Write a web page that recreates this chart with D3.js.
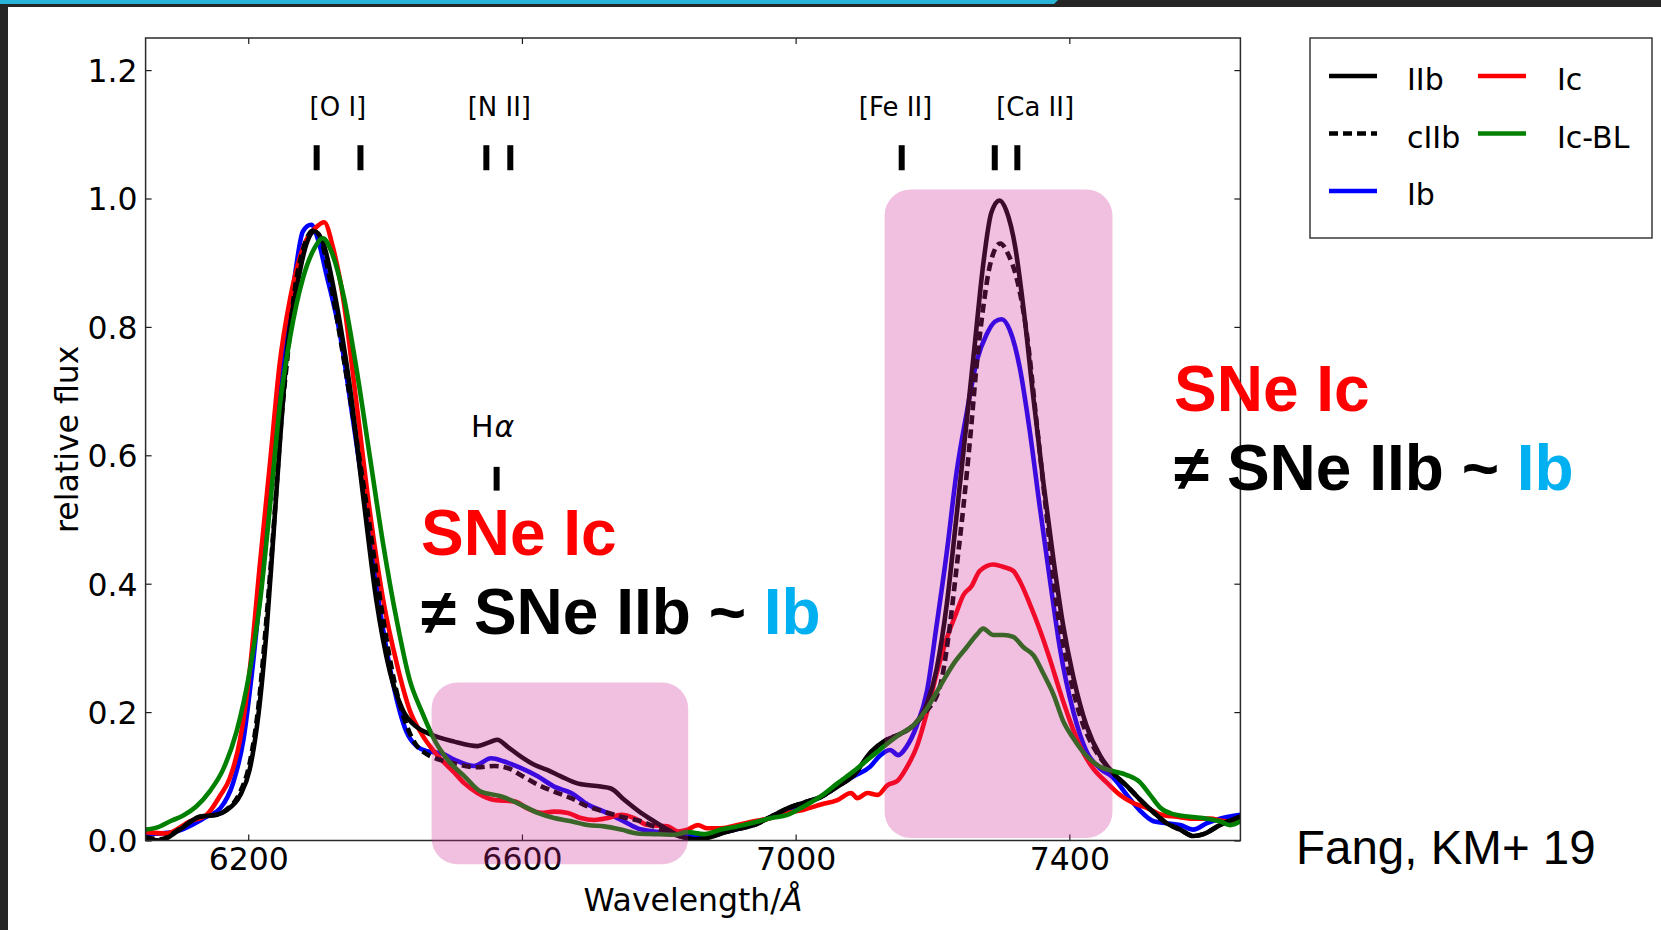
<!DOCTYPE html>
<html>
<head>
<meta charset="utf-8">
<script src="https://cdn.jsdelivr.net/npm/d3@7"></script>
<style>
  html, body { margin: 0; padding: 0; background: #ffffff; }
  svg { display: block; }
</style>
</head>
<body>
<svg id="chart" width="1661" height="930"></svg>
<script>
// ---- Mean nebular spectra, [wavelength (Å), relative flux] ----
const specIIb = [
  [6050,0.003],[6071,0.000],[6100,0.017],[6129,0.037],[6154,0.040],[6168,0.047],[6188,0.070],
  [6202,0.110],[6215,0.197],[6227,0.330],[6236,0.463],[6246,0.616],[6258,0.776],[6270,0.856],
  [6285,0.929],[6297,0.949],[6310,0.929],[6329,0.836],[6348,0.710],[6368,0.536],[6387,0.376],
  [6407,0.263],[6426,0.203],[6446,0.177],[6465,0.166],[6501,0.154],[6535,0.147],[6550,0.152],
  [6564,0.157],[6579,0.146],[6598,0.131],[6618,0.118],[6637,0.110],[6657,0.100],[6681,0.089],
  [6715,0.084],[6730,0.081],[6750,0.063],[6774,0.043],[6793,0.030],[6813,0.017],[6832,0.006],
  [6852,0.002],[6871,0.004],[6891,0.011],[6915,0.018],[6939,0.024],[6964,0.037],[6988,0.050],
  [7012,0.059],[7037,0.068],[7061,0.084],[7085,0.102],[7110,0.138],[7133,0.157],[7153,0.166],
  [7172,0.179],[7192,0.213],[7206,0.267],[7221,0.369],[7235,0.504],[7250,0.653],[7262,0.775],
  [7274,0.896],[7286,0.978],[7298,0.997],[7308,0.981],[7321,0.924],[7333,0.829],[7347,0.694],
  [7362,0.558],[7377,0.436],[7391,0.335],[7406,0.254],[7425,0.179],[7445,0.132],[7464,0.105],
  [7484,0.085],[7503,0.064],[7523,0.044],[7542,0.027],[7562,0.017],[7581,0.007],[7596,0.010],
  [7620,0.024],[7650,0.037]
];
const specCIIb = [
  [6050,0.005],[6071,0.002],[6100,0.018],[6129,0.037],[6154,0.040],[6168,0.048],[6188,0.075],
  [6202,0.120],[6215,0.210],[6227,0.350],[6238,0.500],[6248,0.650],[6258,0.760],[6267,0.850],
  [6280,0.920],[6295,0.950],[6305,0.940],[6320,0.870],[6338,0.760],[6356,0.640],[6376,0.500],
  [6395,0.360],[6414,0.245],[6433,0.175],[6452,0.141],[6501,0.120],[6535,0.114],[6560,0.116],
  [6579,0.113],[6598,0.102],[6623,0.087],[6647,0.076],[6672,0.066],[6696,0.053],[6720,0.045],
  [6745,0.037],[6774,0.030],[6803,0.017],[6832,0.006],[6852,0.002],[6871,0.004],[6891,0.011],
  [6915,0.018],[6939,0.024],[6964,0.037],[6988,0.050],[7012,0.059],[7037,0.068],[7061,0.084],
  [7085,0.102],[7110,0.136],[7133,0.157],[7153,0.166],[7172,0.179],[7190,0.200],[7211,0.240],
  [7223,0.315],[7235,0.423],[7245,0.518],[7255,0.626],[7264,0.734],[7274,0.829],[7284,0.896],
  [7299,0.930],[7312,0.910],[7323,0.876],[7338,0.788],[7352,0.653],[7367,0.504],[7381,0.369],
  [7396,0.280],[7416,0.193],[7435,0.146],[7450,0.122],[7464,0.105],[7484,0.085],[7503,0.064],
  [7523,0.044],[7542,0.027],[7562,0.017],[7581,0.007],[7596,0.010],[7620,0.024],[7650,0.037]
];
const specIb = [
  [6050,0.010],[6090,0.013],[6139,0.037],[6159,0.050],[6178,0.090],[6193,0.157],[6207,0.276],
  [6222,0.430],[6236,0.596],[6251,0.743],[6266,0.863],[6280,0.949],[6292,0.959],[6302,0.936],
  [6314,0.883],[6334,0.789],[6353,0.656],[6373,0.510],[6392,0.363],[6412,0.243],[6431,0.170],
  [6446,0.147],[6462,0.139],[6482,0.136],[6501,0.126],[6530,0.116],[6555,0.128],[6574,0.123],
  [6598,0.113],[6623,0.100],[6647,0.084],[6672,0.074],[6696,0.056],[6720,0.045],[6745,0.032],
  [6769,0.019],[6793,0.014],[6818,0.011],[6850,0.008],[6880,0.010],[6915,0.018],[6939,0.025],
  [6964,0.037],[6988,0.048],[7012,0.058],[7037,0.068],[7061,0.085],[7085,0.100],[7109,0.115],
  [7123,0.132],[7138,0.141],[7150,0.133],[7162,0.146],[7177,0.179],[7192,0.233],[7206,0.335],
  [7221,0.450],[7235,0.572],[7250,0.666],[7265,0.748],[7279,0.788],[7291,0.808],[7301,0.812],
  [7313,0.795],[7328,0.734],[7342,0.639],[7357,0.518],[7372,0.403],[7386,0.301],[7406,0.200],
  [7425,0.139],[7445,0.112],[7464,0.098],[7484,0.071],[7503,0.047],[7523,0.030],[7542,0.027],
  [7562,0.024],[7581,0.017],[7601,0.027],[7620,0.034],[7650,0.040]
];
const specIc = [
  [6050,0.013],[6080,0.011],[6115,0.030],[6139,0.040],[6159,0.070],[6173,0.097],[6188,0.157],
  [6202,0.263],[6217,0.430],[6232,0.590],[6246,0.743],[6261,0.843],[6280,0.923],[6300,0.956],
  [6311,0.963],[6324,0.923],[6339,0.843],[6358,0.683],[6378,0.510],[6397,0.376],[6417,0.276],
  [6436,0.203],[6454,0.165],[6477,0.132],[6501,0.106],[6516,0.089],[6535,0.074],[6560,0.063],
  [6589,0.061],[6608,0.050],[6628,0.043],[6647,0.045],[6667,0.043],[6686,0.035],[6706,0.032],
  [6725,0.035],[6745,0.040],[6764,0.035],[6784,0.024],[6813,0.022],[6828,0.014],[6842,0.017],
  [6857,0.024],[6871,0.019],[6891,0.019],[6915,0.024],[6939,0.030],[6964,0.035],[6988,0.043],
  [7012,0.048],[7037,0.056],[7061,0.063],[7081,0.074],[7090,0.066],[7105,0.074],[7120,0.071],
  [7134,0.086],[7149,0.093],[7163,0.115],[7177,0.146],[7192,0.200],[7206,0.260],[7221,0.315],
  [7235,0.355],[7245,0.382],[7257,0.396],[7269,0.420],[7289,0.430],[7304,0.426],[7318,0.420],
  [7328,0.403],[7342,0.369],[7357,0.328],[7372,0.281],[7386,0.233],[7401,0.186],[7416,0.146],
  [7435,0.112],[7454,0.091],[7474,0.071],[7494,0.058],[7513,0.051],[7532,0.041],[7557,0.037],
  [7581,0.034],[7605,0.034],[7630,0.030],[7650,0.030]
];
const specIcBL = [
  [6050,0.017],[6066,0.020],[6086,0.030],[6105,0.039],[6124,0.053],[6144,0.077],[6163,0.110],
  [6183,0.170],[6202,0.263],[6217,0.370],[6232,0.523],[6246,0.676],[6261,0.783],[6280,0.876],
  [6297,0.923],[6309,0.938],[6322,0.916],[6339,0.850],[6358,0.736],[6378,0.596],[6397,0.463],
  [6417,0.343],[6436,0.250],[6454,0.200],[6473,0.155],[6492,0.125],[6516,0.100],[6540,0.076],
  [6569,0.069],[6598,0.056],[6623,0.043],[6647,0.035],[6672,0.030],[6696,0.024],[6720,0.022],
  [6745,0.017],[6769,0.011],[6793,0.010],[6822,0.009],[6842,0.013],[6866,0.010],[6891,0.017],
  [6915,0.022],[6939,0.028],[6964,0.035],[6988,0.040],[7012,0.053],[7037,0.069],[7061,0.089],
  [7085,0.108],[7110,0.130],[7133,0.150],[7153,0.166],[7172,0.179],[7192,0.206],[7211,0.240],
  [7230,0.274],[7250,0.301],[7265,0.321],[7274,0.330],[7289,0.320],[7304,0.320],[7318,0.317],
  [7333,0.301],[7348,0.288],[7362,0.260],[7377,0.227],[7391,0.186],[7406,0.159],[7425,0.132],
  [7445,0.115],[7464,0.108],[7484,0.102],[7503,0.091],[7518,0.071],[7533,0.051],[7552,0.041],
  [7576,0.037],[7601,0.034],[7620,0.030],[7635,0.024],[7650,0.030]
];

// ---- Axis ticks ----
const waveTicks = [6200, 6600, 7000, 7400];
const fluxTicks = [0.0, 0.2, 0.4, 0.6, 0.8, 1.0, 1.2];

// ---- Line identifications ----
const lineNames = ["[O I]", "[N II]", "[Fe II]", "[Ca II]"];
const lineLabelWaves = [6331, 6567, 7146, 7350];
const lineRestWaves = [[6300, 6364], [6548, 6583], [7155], [7291, 7324]];
const hAlphaWave = 6563;

// ---- Highlighted wavelength windows: [λmin, λmax, fluxMin, fluxMax] ----
const highlightWindows = [
  [6468, 6843, -0.037, 0.246],
  [7130, 7463, 0.004, 1.014]
];

// ---- Legend order ----
const legendNames = ["IIb", "cIIb", "Ib", "Ic", "Ic-BL"];

// -------------------------------------------------------------------
const svg = d3.select("#chart");
const AX_FONT = "DejaVu Sans, Verdana, sans-serif";
const TXT_FONT = "Liberation Sans, Arial, sans-serif";
const AX_SIZE = 31.5;

// slide chrome: dark frame with accent bar
svg.append("rect").attr("x", 0).attr("y", 0).attr("width", 1661).attr("height", 930).attr("fill", "#ffffff");
svg.append("rect").attr("x", 0).attr("y", 0).attr("width", 1661).attr("height", 7).attr("fill", "#262626");
svg.append("rect").attr("x", 0).attr("y", 0).attr("width", 8).attr("height", 930).attr("fill", "#262626");
svg.append("path").attr("d", "M0,0 L1058,0 L1054,4 L0,4 Z").attr("fill", "#27b4d6");

const plotLeft = 145.6, plotRight = 1240.4, plotTop = 38, plotBottom = 840.5;
const x = d3.scaleLinear().domain([6050, 7650]).range([plotLeft, plotRight]);
const y = d3.scaleLinear().domain([0, 1.25]).range([plotBottom, plotTop]);

const series = [
  { name: "Ib",    data: specIb,   color: "#0000ff", dash: null },
  { name: "Ic",    data: specIc,   color: "#ff0000", dash: null },
  { name: "IIb",   data: specIIb,  color: "#000000", dash: null },
  { name: "cIIb",  data: specCIIb, color: "#000000", dash: "9,5" },
  { name: "Ic-BL", data: specIcBL, color: "#008000", dash: null }
];

// clip the spectra to the axes box
svg.append("defs").append("clipPath").attr("id", "plotClip")
  .append("rect").attr("x", plotLeft).attr("y", plotTop)
  .attr("width", plotRight - plotLeft).attr("height", plotBottom - plotTop);

const line = d3.line()
  .x(d => x(d[0]))
  .y(d => y(d[1]))
  .curve(d3.curveMonotoneX);

const plot = svg.append("g").attr("clip-path", "url(#plotClip)");
plot.selectAll("path.spec")
  .data(series)
  .join("path")
  .attr("class", "spec")
  .attr("d", d => line(d.data))
  .attr("fill", "none")
  .attr("stroke", d => d.color)
  .attr("stroke-width", 4.6)
  .attr("stroke-linejoin", "round")
  .attr("stroke-dasharray", d => d.dash);

// axes (ticks point inward on all four sides)
const styleAxis = g => {
  g.select(".domain").remove();
  g.attr("font-family", AX_FONT).attr("font-size", AX_SIZE).attr("color", "#1a1a1a");
  g.selectAll(".tick line").attr("stroke-width", 1.2);
  g.selectAll(".tick text").attr("fill", "#000");
};
svg.append("g").attr("transform", `translate(0,${plotBottom})`)
  .call(d3.axisBottom(x).tickValues(waveTicks).tickSize(-6).tickPadding(7).tickFormat(d3.format("d")))
  .call(styleAxis);
svg.append("g").attr("transform", `translate(0,${plotTop})`)
  .call(d3.axisTop(x).tickValues(waveTicks).tickSize(-6).tickFormat(""))
  .call(styleAxis);
svg.append("g").attr("transform", `translate(${plotLeft},0)`)
  .call(d3.axisLeft(y).tickValues(fluxTicks).tickSize(-6).tickPadding(8).tickFormat(d3.format(".1f")))
  .call(styleAxis)
  .call(g => g.selectAll(".tick text").attr("dy", "0.36em"));
svg.append("g").attr("transform", `translate(${plotRight},0)`)
  .call(d3.axisRight(y).tickValues(fluxTicks).tickSize(-6).tickFormat(""))
  .call(styleAxis);

svg.append("rect")
  .attr("x", plotLeft).attr("y", plotTop)
  .attr("width", plotRight - plotLeft).attr("height", plotBottom - plotTop)
  .attr("fill", "none").attr("stroke", "#2a2a2a").attr("stroke-width", 1.5);

// axis titles
svg.append("text")
  .attr("x", (plotLeft + plotRight) / 2).attr("y", 911)
  .attr("text-anchor", "middle")
  .attr("font-family", AX_FONT).attr("font-size", AX_SIZE).attr("fill", "#000")
  .call(t => {
    t.append("tspan").text("Wavelength/");
    t.append("tspan").attr("font-style", "italic").text("Å");
  });
svg.append("text")
  .attr("transform", `translate(78,${(plotTop + plotBottom) / 2}) rotate(-90)`)
  .attr("text-anchor", "middle")
  .attr("font-family", AX_FONT).attr("font-size", AX_SIZE).attr("fill", "#000")
  .text("relative flux");

// line identifications
const ids = svg.append("g").attr("font-family", AX_FONT).attr("font-size", 26).attr("fill", "#000");
lineNames.forEach((name, i) => {
  ids.append("text")
    .attr("x", x(lineLabelWaves[i])).attr("y", y(1.128))
    .attr("text-anchor", "middle").text(name);
  lineRestWaves[i].forEach(w => {
    ids.append("line")
      .attr("x1", x(w)).attr("x2", x(w))
      .attr("y1", y(1.083)).attr("y2", y(1.044))
      .attr("stroke", "#000").attr("stroke-width", 6);
  });
});
ids.append("text")
  .attr("x", x(hAlphaWave) - 4).attr("y", y(0.628))
  .attr("text-anchor", "middle").attr("font-size", 30)
  .call(t => {
    t.append("tspan").text("H");
    t.append("tspan").attr("font-style", "italic").attr("dx", 1).text("α");
  });
ids.append("line")
  .attr("x1", x(hAlphaWave)).attr("x2", x(hAlphaWave))
  .attr("y1", y(0.582)).attr("y2", y(0.545))
  .attr("stroke", "#000").attr("stroke-width", 6);

// highlighted windows, translucent magenta laid over the spectra
svg.append("g").selectAll("rect")
  .data(highlightWindows)
  .join("rect")
  .attr("x", d => x(d[0]))
  .attr("y", d => y(d[3]))
  .attr("width", d => x(d[1]) - x(d[0]))
  .attr("height", d => y(d[2]) - y(d[3]))
  .attr("rx", 26).attr("ry", 26)
  .attr("fill", "rgb(208,36,145)")
  .attr("fill-opacity", 0.29);

// legend
const legend = svg.append("g");
legend.append("rect")
  .attr("x", 1310).attr("y", 38).attr("width", 342).attr("height", 200)
  .attr("fill", "#fff").attr("stroke", "#3a3a3a").attr("stroke-width", 1.5);
const colLineX = [1329, 1478], colTextX = [1407, 1557], rowY = [76, 133.5, 191];
legendNames.forEach((name, i) => {
  const s = series.find(d => d.name === name);
  const col = i < 3 ? 0 : 1, row = i < 3 ? i : i - 3;
  legend.append("line")
    .attr("x1", colLineX[col]).attr("x2", colLineX[col] + 48)
    .attr("y1", rowY[row]).attr("y2", rowY[row])
    .attr("stroke", s.color).attr("stroke-width", 4.6)
    .attr("stroke-dasharray", s.dash);
  legend.append("text")
    .attr("x", colTextX[col]).attr("y", rowY[row] + 14)
    .attr("font-family", AX_FONT).attr("font-size", 30).attr("fill", "#000")
    .text(name);
});

// comparison statements
const statement = (x0, yBase) => {
  const g = svg.append("g").attr("font-family", TXT_FONT).attr("font-weight", "bold").attr("font-size", 64);
  g.append("text").attr("x", x0).attr("y", yBase).attr("fill", "#ff0000").text("SNe Ic");
  const t2 = g.append("text").attr("x", x0).attr("y", yBase + 79).attr("fill", "#000");
  t2.append("tspan").text("≠ SNe IIb ~ ");
  t2.append("tspan").attr("fill", "#00b0f0").text("Ib");
};
statement(421, 555);
statement(1174, 411);

svg.append("text")
  .attr("x", 1296).attr("y", 864)
  .attr("font-family", TXT_FONT).attr("font-size", 47.5).attr("fill", "#000")
  .text("Fang, KM+ 19");
</script>
</body>
</html>
